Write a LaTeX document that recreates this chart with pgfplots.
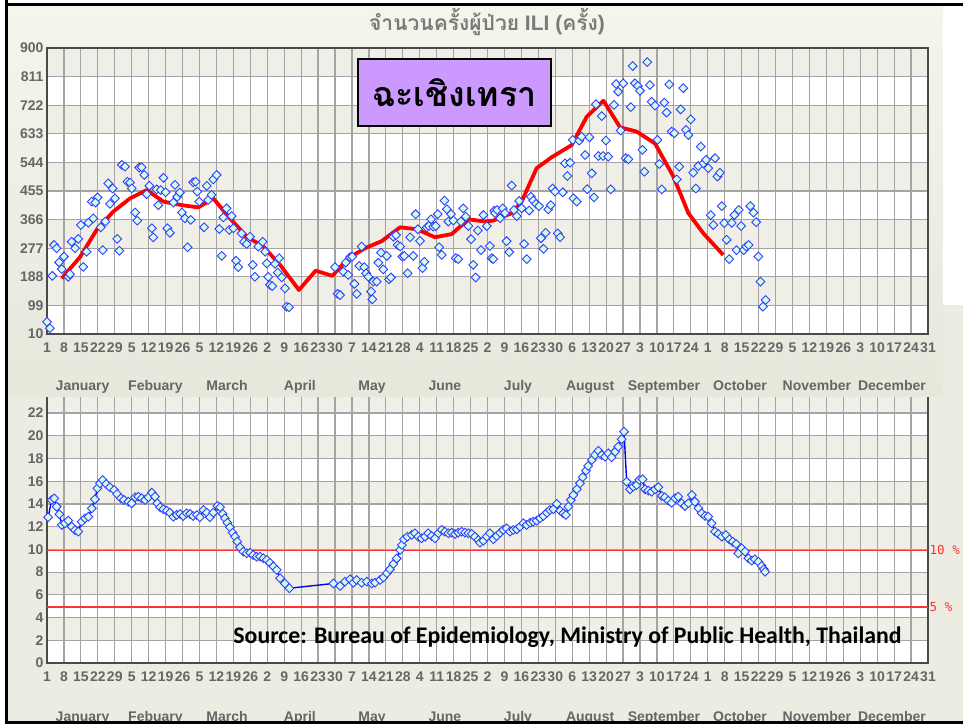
\documentclass[border=0pt]{standalone}
\usepackage{fontspec}
\setmainfont{Liberation Sans}
\newfontfamily\thaifont[Script=Thai]{Loma}
\newfontfamily\carlito{Carlito}
\newfontfamily\monofont{DejaVu Sans Mono}
\usepackage{pgfplots}
\pgfplotsset{compat=1.18}

\definecolor{labgray}{HTML}{666666}
\definecolor{titlegray}{HTML}{7A7A7A}
\definecolor{toppanelA}{HTML}{F5F5EC}
\definecolor{toppanelB}{HTML}{E7E7DC}
\definecolor{botpanel}{HTML}{ECECE2}
\definecolor{bandc}{HTML}{EFEFE7}
\definecolor{gridc}{HTML}{A4A4A4}
\definecolor{axisc}{HTML}{4A4A4A}
\definecolor{markfill}{HTML}{CCFFE8}
\definecolor{markdraw}{HTML}{3A3AFF}
\definecolor{purplebox}{HTML}{CC99FF}
\definecolor{reflinec}{HTML}{FF3030}

\pgfplotsset{
  ilibase/.style={
    scale only axis, width=881pt, anchor=south west,
    xmin=1, xmax=365,
    xtick={1,8,...,365},
    xticklabels={1,8,15,22,29,5,12,19,26,5,12,19,26,2,9,16,23,30,7,14,21,28,4,11,18,25,2,9,16,23,30,6,13,20,27,3,10,17,24,1,8,15,22,29,5,12,19,26,3,10,17,24,31},
    major tick length=0pt,
    grid=major, grid style={draw=gridc, line width=1.2pt},
    axis line style={draw=axisc, line width=2.5pt},
    tick label style={font=\bfseries\fontsize{14}{14}\selectfont, text=labgray},
    xticklabel style={yshift=-5pt},
    /pgf/number format/assume math mode=true,
    clip=false,
  },
  bandbase/.style={
    scale only axis, width=881pt, anchor=south west,
    xmin=1, xmax=365, hide axis, clip=false,
  },
  mk/.style={mark=square*, mark size=3.1pt,
    mark options={rotate=45, fill=markfill, draw=markdraw, line width=0.9pt, solid}},
}
\tikzset{monthlab/.style={font=\bfseries\fontsize{14}{14}\selectfont, text=labgray, anchor=base}}

\begin{document}
\begin{tikzpicture}[x=1pt,y=1pt]
\path[use as bounding box] (0,0) rectangle (963,724);
\clip (0,0) rectangle (963,724);
\fill[white] (0,0) rectangle (963,724);
\fill[botpanel] (7,0) rectangle (963,720);

% ---------- bottom chart: percentage ----------
\begin{axis}[bandbase, at={(47pt,61pt)}, height=272.64pt, ymin=0, ymax=24]
  \fill[white] (axis cs:1,0) rectangle (axis cs:365,24);
  \fill[bandc] (axis cs:1,2) rectangle (axis cs:365,4);
  \fill[bandc] (axis cs:1,6) rectangle (axis cs:365,8);
  \fill[bandc] (axis cs:1,10) rectangle (axis cs:365,12);
  \fill[bandc] (axis cs:1,14) rectangle (axis cs:365,16);
  \fill[bandc] (axis cs:1,18) rectangle (axis cs:365,20);
  \fill[bandc] (axis cs:1,22) rectangle (axis cs:365,24);
\end{axis}
\begin{axis}[ilibase, at={(47pt,61pt)}, height=272.64pt,
  ymin=0, ymax=24, ytick={0,2,...,22}]
  \node[monthlab, yshift=-58pt] at (axis cs:15.7,0) {January};
  \node[monthlab, yshift=-58pt] at (axis cs:45.8,0) {Febuary};
  \node[monthlab, yshift=-58pt] at (axis cs:75.4,0) {March};
  \node[monthlab, yshift=-58pt] at (axis cs:105.5,0) {April};
  \node[monthlab, yshift=-58pt] at (axis cs:135.3,0) {May};
  \node[monthlab, yshift=-58pt] at (axis cs:165.4,0) {June};
  \node[monthlab, yshift=-58pt] at (axis cs:195.6,0) {July};
  \node[monthlab, yshift=-58pt] at (axis cs:225.4,0) {August};
  \node[monthlab, yshift=-58pt] at (axis cs:255.9,0) {September};
  \node[monthlab, yshift=-58pt] at (axis cs:287.3,0) {October};
  \node[monthlab, yshift=-58pt] at (axis cs:319.1,0) {November};
  \node[monthlab, yshift=-58pt] at (axis cs:350.1,0) {December};
\end{axis}
\begin{axis}[bandbase, at={(47pt,61pt)}, height=272.64pt, ymin=0, ymax=24]
  \addplot[draw=reflinec, line width=1.3pt] coordinates {(1,9.93) (365,9.93)};
  \addplot[draw=reflinec, line width=1.3pt] coordinates {(1,4.93) (365,4.93)};
  \addplot[draw=blue, line width=1.4pt, mk] coordinates {
    (1.5,12.83) (2.9,14.35) (4.0,14.5) (5.0,13.76) (6.1,13.1) (7.1,12.15) (8.4,12.3)
    (9.8,12.53) (11.2,12.0) (12.6,11.7) (13.9,11.56) (15.3,12.44) (16.7,12.74) (18.1,12.88)
    (19.5,13.62) (20.8,14.41) (21.8,15.38) (22.9,15.82) (24.0,16.11) (25.4,15.76) (27.0,15.47)
    (28.7,15.23) (30.0,14.88) (31.5,14.5) (32.8,14.35) (34.6,14.2) (36.0,14.06) (37.4,14.59)
    (38.7,14.64) (40.1,14.5) (41.5,14.35) (42.9,14.59) (44.3,14.99) (45.6,14.64) (46.6,14.06)
    (47.7,13.71) (49.1,13.53) (50.5,13.41) (51.8,13.23) (53.2,12.88) (54.6,13.03) (56.0,13.12)
    (57.3,12.94) (58.7,13.18) (60.1,13.12) (61.4,12.94) (62.9,13.03) (64.2,12.83) (65.6,13.47)
    (67.0,13.23) (68.3,12.83) (69.7,13.23) (71.4,13.82) (72.5,13.71) (73.6,13.12) (74.5,12.74)
    (75.5,12.35) (76.6,11.95) (77.7,11.47) (78.7,11.12) (79.6,10.68) (80.7,10.18) (82.1,9.80)
    (83.5,9.66) (84.9,9.71) (86.2,9.51) (87.6,9.36) (89.0,9.36) (90.4,9.22) (91.8,9.07)
    (93.1,8.83) (94.5,8.5) (95.9,8.2) (97.3,7.46) (99.3,7.0) (101.1,6.58)
    (119.3,7.0) (122.1,6.78) (124.1,7.16) (126.2,7.37) (127.6,7.07) (128.9,7.31) (131.0,7.07)
    (133.1,7.16) (135.2,7.0) (136.5,7.07) (138.6,7.31) (140.0,7.54) (141.4,7.9) (142.7,8.25)
    (144.1,8.71) (145.5,9.2) (146.9,9.95) (147.6,10.39) (148.5,10.89) (149.9,11.12) (151.7,11.27)
    (153.0,11.42) (154.4,11.12) (155.8,10.98) (157.2,11.12) (158.5,11.42) (159.9,11.18) (161.3,10.98)
    (162.7,11.42) (164.1,11.71) (165.4,11.56) (166.8,11.42) (168.2,11.47) (169.6,11.36) (170.9,11.47)
    (172.3,11.56) (173.7,11.47) (175.1,11.42) (176.5,11.36) (177.8,11.12) (179.2,10.83) (179.9,10.59)
    (181.3,10.77) (182.7,11.12) (184.0,11.42) (185.4,10.89) (186.8,11.18) (188.2,11.47) (189.5,11.71)
    (190.9,11.86) (192.3,11.56) (193.7,11.71) (195.1,11.77) (196.4,12.0) (197.8,12.3) (199.2,12.15)
    (200.6,12.35) (201.9,12.44) (203.3,12.53) (204.7,12.74) (206.1,12.94) (207.5,13.23) (208.8,13.47)
    (210.2,13.53) (211.6,14.0) (213.0,13.41) (214.3,13.18) (215.4,13.03) (216.4,13.76) (217.4,14.35)
    (218.5,14.79) (219.9,15.29) (221.2,15.82) (222.3,16.35) (223.7,16.93) (224.6,17.34) (226.1,17.87)
    (227.4,18.31) (228.8,18.69) (230.2,18.31) (231.6,18.16) (232.9,18.46) (234.3,18.11) (235.7,18.6)
    (237.0,19.04) (238.4,19.69) (239.4,20.36) (240.5,15.96) (241.9,15.29) (243.2,15.52) (244.6,15.67)
    (245.7,16.11) (247.1,16.17) (248.1,15.29) (249.4,15.17) (250.8,15.08) (252.2,15.29) (253.6,15.47)
    (255.0,14.7) (256.3,14.59) (257.7,14.29) (259.1,14.11) (260.5,14.5) (261.8,14.64) (263.2,14.06)
    (264.6,13.82) (266.0,14.06) (267.4,14.79) (268.7,14.2) (270.1,13.62) (271.5,13.18) (272.9,12.94)
    (274.2,12.88) (275.6,12.3) (277.0,11.56) (278.4,11.36) (279.8,11.12) (281.5,11.27) (282.9,10.89)
    (284.3,10.68) (285.7,10.48) (286.6,9.66) (288.0,10.1) (289.4,9.8) (290.8,9.22) (292.2,9.01)
    (293.5,9.13) (294.9,8.92) (296.3,8.54) (297.2,8.25) (297.7,8.04)
  };
  \node[anchor=west, font=\monofont\fontsize{12.5}{12.5}\selectfont, text=reflinec, xshift=0.5pt, inner sep=1pt] at (axis cs:365,9.93) {10 \%};
  \node[anchor=west, font=\monofont\fontsize{12.5}{12.5}\selectfont, text=reflinec, xshift=0.5pt, inner sep=1pt] at (axis cs:365,4.93) {5 \%};
\end{axis}

% ---------- top panel ----------
\shade[top color=toppanelA, bottom color=toppanelB] (7,328) rectangle (943,720);
\fill[white] (943,419) rectangle (963,720);

\begin{axis}[bandbase, at={(47pt,390pt)}, height=286pt, ymin=10, ymax=900]
  \fill[white] (axis cs:1,10) rectangle (axis cs:365,900);
  \fill[bandc] (axis cs:1,99) rectangle (axis cs:365,188);
  \fill[bandc] (axis cs:1,277) rectangle (axis cs:365,366);
  \fill[bandc] (axis cs:1,455) rectangle (axis cs:365,544);
  \fill[bandc] (axis cs:1,633) rectangle (axis cs:365,722);
  \fill[bandc] (axis cs:1,811) rectangle (axis cs:365,900);
\end{axis}
\begin{axis}[ilibase, at={(47pt,390pt)}, height=286pt,
  ymin=10, ymax=900, ytick={10,99,...,900}]
  \node[monthlab, yshift=-56pt] at (axis cs:15.7,10) {January};
  \node[monthlab, yshift=-56pt] at (axis cs:45.8,10) {Febuary};
  \node[monthlab, yshift=-56pt] at (axis cs:75.4,10) {March};
  \node[monthlab, yshift=-56pt] at (axis cs:105.5,10) {April};
  \node[monthlab, yshift=-56pt] at (axis cs:135.3,10) {May};
  \node[monthlab, yshift=-56pt] at (axis cs:165.4,10) {June};
  \node[monthlab, yshift=-56pt] at (axis cs:195.6,10) {July};
  \node[monthlab, yshift=-56pt] at (axis cs:225.4,10) {August};
  \node[monthlab, yshift=-56pt] at (axis cs:255.9,10) {September};
  \node[monthlab, yshift=-56pt] at (axis cs:287.3,10) {October};
  \node[monthlab, yshift=-56pt] at (axis cs:319.1,10) {November};
  \node[monthlab, yshift=-56pt] at (axis cs:350.1,10) {December};
\end{axis}
\begin{axis}[bandbase, at={(47pt,390pt)}, height=286pt, ymin=10, ymax=900]
  \addplot[only marks, mk] coordinates {
    (1,48) (2.2,28) (3.2,191) (3.9,287) (5,277) (6,233) (7.1,212) (8,251) (9.8,188) (10.5,196)
    (11.2,297) (12.6,277) (13.9,306) (15,349) (16,219) (17.4,266) (18.1,356) (19.5,422) (20.1,370)
    (21.9,435) (21,419) (23.2,342) (24,271) (25.1,360) (26.3,479) (27,415) (28.1,463) (29.1,432)
    (30,306) (30.9,269) (31.9,536) (33.2,531) (34.2,484) (35.3,481) (36,463) (37.4,388) (38.3,363)
    (39.1,528) (40.1,529) (41.2,505) (42.2,445) (43.3,471) (44.3,339) (44.9,311) (46.3,460) (47,411)
    (48,458) (49.1,496) (50,451) (50.7,339) (51.8,325) (53.2,419) (53.9,474) (54.8,437) (55.9,450)
    (56.7,388) (58,370) (59.1,280) (60.4,365) (61.4,482) (62.4,484) (63.1,453) (63.9,422) (65.9,342)
    (67,471) (67.6,427) (69,443) (69.7,491) (71.1,505) (72.2,337) (73.2,253) (73.8,373) (75.2,401)
    (76.3,334) (77.3,377) (78,339) (79.1,238) (80,218) (81.4,323) (82.4,297) (83.5,290) (84.9,313)
    (86,225) (86.9,188) (88.3,282) (90.1,297) (91.1,266) (91.8,230) (92.4,188) (93.1,163) (94.1,159)
    (95.2,228) (96.3,201) (96.9,246) (98,186) (99.3,152) (100,95) (101,93)
    (120,218) (121.1,135) (122.1,131) (123.4,204) (124.4,232) (125.5,194) (126.2,249) (127.1,251)
    (128,166) (129,135) (130,222) (131,282) (132.1,218) (132.8,199) (133.8,188) (134.9,142) (135.4,118)
    (135.8,173) (137.2,173) (137.9,232) (139,263) (139.9,211) (141.4,253) (142.3,180) (143.1,186)
    (144.1,313) (145.2,318) (145.9,287) (146.9,282) (147.8,251) (148.6,253) (150,199) (151,311)
    (152.3,253) (153.3,383) (154.2,336) (155.1,300) (156.1,215) (156.9,235) (157.9,342) (158.8,346)
    (159.7,367) (160.6,344) (161.6,346) (162.4,383) (163,280) (164.1,256) (165.2,425) (166.2,398)
    (166.8,360) (167.9,383) (168.9,363) (169.9,246) (170.9,243) (172,360) (173,401) (174,375)
    (175.1,346) (176.2,305) (177.1,225) (178.1,186) (179,332) (180.3,271) (181.3,380) (182.7,346)
    (184,284) (184.7,246) (185.8,394) (185.4,243) (186.1,386) (187,396) (188.2,370) (189.3,401)
    (190.2,386) (190.9,299) (192,265) (193,472) (193.9,396) (195.1,377) (196.1,424) (197.1,401)
    (198.1,290) (199.2,243) (200.2,394) (200.9,437) (201.9,425) (203,415) (204.3,408) (205.1,308)
    (206.1,275) (207,325) (208.1,398) (209.1,411) (209.9,463) (210.9,453) (212,323) (213,311)
    (214.1,451) (215,541) (216,502) (217.1,543) (218.5,432) (219.9,422) (218.2,614) (220.9,612)
    (221.9,624) (223.3,567) (224.2,461) (225.1,622) (226.1,510) (227,435) (227.8,725) (230.2,688)
    (228.8,564) (230.8,564) (231.9,612) (232.9,562) (233.9,460) (235.3,723) (236.1,788) (237,764)
    (238,643) (239.1,790) (240.1,557) (241.2,554) (242.2,716) (243,844) (243.9,790) (245.1,782)
    (246,767) (247,583) (247.8,515) (249,856) (250.1,785) (250.8,733) (252.2,721) (253.2,614)
    (254,539) (255,460) (256,730) (257,699) (258.1,787) (259.1,640) (260.2,635) (261.2,491)
    (262.2,531) (262.8,709) (263.9,775) (265,645) (266,629) (267,678) (268,512) (269.1,463)
    (270.1,533) (271.1,593) (272.2,541) (273.3,552) (274.2,526) (275.2,380) (276.3,349) (277,557)
    (278,500) (279,512) (279.8,408) (280.8,355) (281.8,303) (282.9,243) (283.9,356) (285,380)
    (285.9,271) (286.8,396) (287.8,346) (288.9,271) (289.9,282) (290.9,287) (291.6,408) (292.9,388)
    (294,358) (294.9,251) (295.8,173) (297.9,116) (296.8,95)
  };
  \addplot[draw=red, line width=3.8pt, line join=round] coordinates {
    (7.1,183) (14.6,249) (21.5,334) (28.4,391) (35.3,432) (42.2,458) (49.1,422) (56.7,411)
    (63.5,404) (69.7,432) (76.6,370) (83.5,313) (90.4,282) (97.3,225) (105.1,147) (112,207)
    (118.9,191) (125.5,246) (132.4,277) (139.3,299) (146.9,342) (153.8,336) (161.3,311) (168.2,321)
    (175.1,367) (182,360) (185.4,363) (193,386) (197.1,422) (203.3,526) (209.5,560) (217.8,598)
    (224,686) (230.9,736) (237.8,653) (244.6,640) (252.2,603) (259.8,500) (266,386) (272.2,323)
    (280.4,256)
  };
\end{axis}

% ---------- texts ----------
\node[text=titlegray, font=\bfseries\fontsize{21}{21}\selectfont] at (487,702)
  {{\thaifont จำนวนครั้งผู้ป่วย} ILI ({\thaifont ครั้ง})};
\node[draw=black, line width=1.5pt, fill=purplebox, minimum width=193pt, minimum height=67pt, inner sep=0pt]
  at (454.5,631.5) {\thaifont\bfseries\fontsize{34}{34}\selectfont ฉะเชิงเทรา};
\node at (567.5,87) {\carlito\bfseries\fontsize{23.8}{23.8}\selectfont Source: Bureau of Epidemiology, Ministry of Public Health, Thailand};

% ---------- frame ----------
\draw[black, line width=3pt] (5,719.5) -- (963,719.5);
\draw[black, line width=3pt] (6.5,724) -- (6.5,0);
\draw[black, line width=3pt] (5,2) -- (963,2);
\end{tikzpicture}
\end{document}
